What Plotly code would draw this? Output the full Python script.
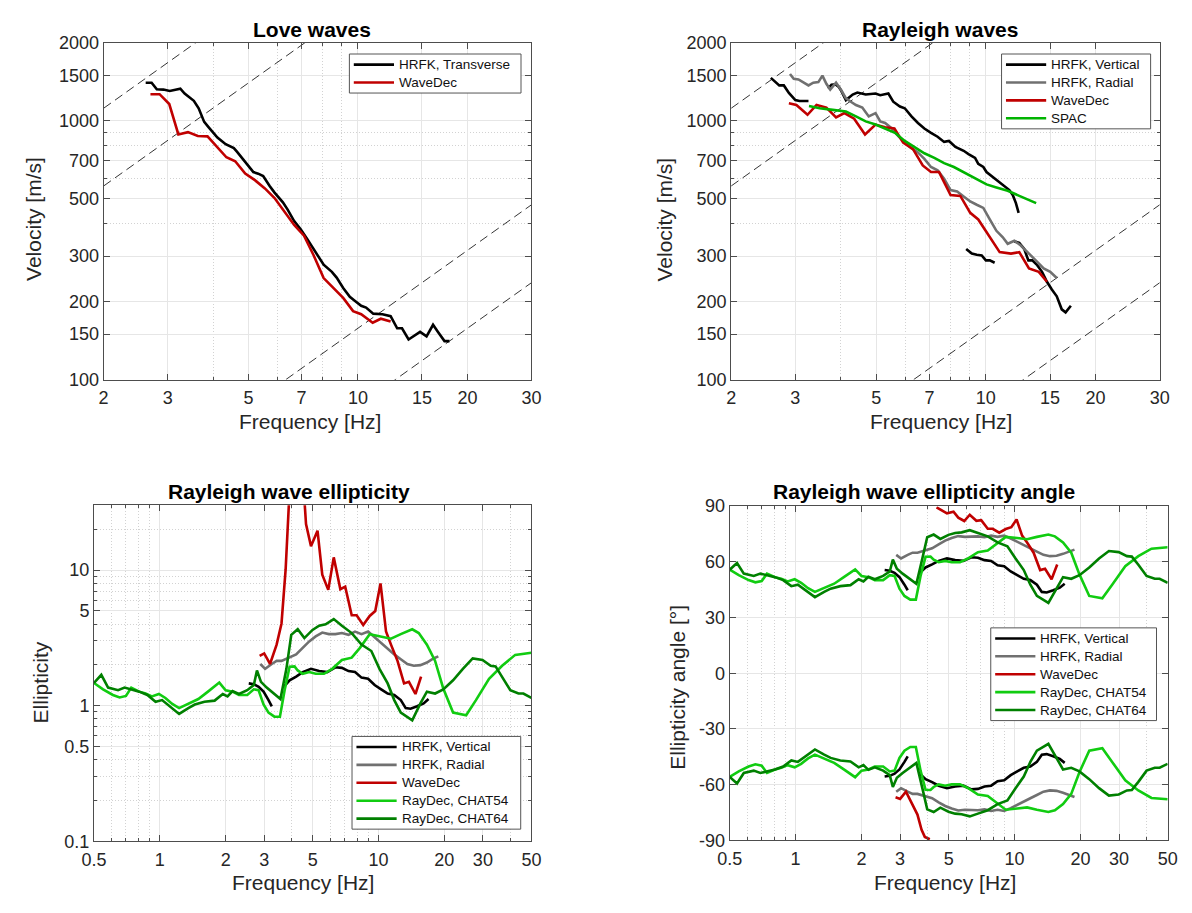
import numpy as np
import plotly.graph_objects as go

# ---------------------------------------------------------------------------
# Love-wave dispersion curves (frequency in Hz, phase velocity in m/s)
love_hrfk_f = [2.61, 2.71, 2.80, 2.92, 3.04, 3.25, 3.34, 3.45, 3.54, 3.65,
               3.78, 3.90, 4.11, 4.33, 4.56, 4.65, 4.80, 4.95, 5.16, 5.32,
               5.49, 5.72, 5.90, 6.22, 6.41, 6.68, 6.96, 7.26, 7.64, 8.05,
               8.48, 8.74, 9.11, 9.50, 9.80, 10.21, 10.53, 11.02, 11.68, 12.30,
               12.82, 13.22, 13.78, 14.82, 15.44, 16.09, 16.60, 17.30, 17.85]
love_hrfk_v = [1403, 1403, 1323, 1320, 1304, 1331, 1274, 1227, 1195, 1118,
               990, 939, 861, 812, 784, 760, 719, 688, 634, 625,
               612, 560, 528, 484, 454, 410, 381, 349, 311, 278,
               261, 248, 226, 209, 202, 193, 190, 180, 179, 176,
               158, 158, 143, 153, 147, 163, 153, 141, 141]

love_wd_f = [2.69, 2.85, 3.03, 3.21, 3.41, 3.63, 3.86, 4.11, 4.35, 4.60,
             4.90, 5.21, 5.55, 5.90, 6.28, 6.68, 7.11, 7.56, 8.05, 8.56,
             9.11, 9.70, 10.21, 10.98, 11.56, 12.30]
love_wd_v = [1267, 1267, 1161, 886, 904, 873, 871, 793, 723, 698,
             625, 590, 548, 503, 447, 396, 360, 302, 247, 227,
             207, 184, 179, 166, 172, 168]

# ---------------------------------------------------------------------------
# Rayleigh-wave dispersion curves
ray_hrfkz_f = [[2.57, 2.71, 2.79, 2.88, 3.00, 3.08, 3.26],
               [3.69, 3.77, 3.87, 3.95, 4.01, 4.13, 4.31, 4.44, 4.68, 4.98,
                5.13, 5.40, 5.57, 5.81, 5.99, 6.25, 6.51, 6.78, 7.07, 7.37,
                7.68, 7.92, 8.25, 8.69, 8.96, 9.34, 9.53, 9.84, 10.04, 10.46,
                10.79, 11.13, 11.60, 11.85, 12.09, 12.30],
               [8.83, 9.15, 9.44, 9.74, 10.00, 10.25, 10.57],
               [11.97, 12.35, 12.74, 13.08, 13.41, 13.83, 14.26, 14.71, 15.17,
                15.65, 16.15, 16.55, 17.11]]
ray_hrfkz_v = [[1465, 1370, 1370, 1282, 1202, 1192, 1192],
               [1331, 1378, 1382, 1351, 1304, 1202, 1263, 1286, 1263, 1274,
                1256, 1274, 1185, 1135, 1118, 1040, 981, 934, 899, 868,
                829, 836, 793, 766, 744, 719, 682, 663, 634, 607,
                586, 565, 540, 517, 481, 441],
               [320, 307, 304, 302, 289, 289, 283],
               [342, 338, 320, 289, 289, 277, 261, 239, 223, 210, 187, 182, 193]]

ray_hrfkr_f = [2.90, 2.97, 3.06, 3.16, 3.26, 3.36, 3.47, 3.56, 3.65, 3.74,
               3.88, 4.01, 4.13, 4.26, 4.40, 4.58, 4.77, 4.98, 5.13, 5.29,
               5.52, 5.75, 5.99, 6.25, 6.51, 6.78, 7.07, 7.37, 7.68, 8.00,
               8.34, 8.69, 9.06, 9.44, 9.84, 10.25, 10.69, 11.13, 11.48, 11.97,
               12.47, 13.13, 13.55, 13.97, 14.41, 15.02, 15.65]
ray_hrfkr_v = [1517, 1452, 1444, 1411, 1370, 1403, 1411, 1495, 1390, 1320,
               1403, 1312, 1220, 1185, 1151, 1125, 1040, 1071, 995, 981,
               934, 873, 824, 784, 755, 713, 663, 644, 598, 540,
               533, 510, 488, 474, 461, 416, 376, 355, 335, 344,
               330, 307, 294, 281, 269, 261, 247]

ray_wd_f = [2.88, 3.02, 3.24, 3.43, 3.65, 3.88, 4.09, 4.35, 4.66, 4.98,
            5.29, 5.61, 5.93, 6.31, 6.71, 7.07, 7.44, 8.00, 8.51, 9.06,
            9.53, 10.25, 10.91, 11.72, 12.35, 13.13, 13.97, 14.71]
ray_wd_v = [1168, 1151, 1055, 1151, 1125, 1031, 1071, 1019, 886, 967,
            945, 934, 824, 777, 672, 634, 634, 517, 513, 441,
            416, 355, 311, 307, 311, 269, 261, 239]

ray_spac_f = [3.27, 3.50, 3.80, 4.13, 4.40, 4.68, 4.98, 5.29, 5.63, 5.99,
              6.38, 6.78, 7.22, 7.68, 8.17, 8.69, 9.25, 10.04, 10.69, 11.48,
              12.35, 13.74]
ray_spac_v = [1141, 1118, 1102, 1086, 1040, 995, 967, 934, 899, 836,
              789, 749, 719, 686, 663, 634, 603, 568, 553, 537,
              513, 481]

# Array resolution limits, drawn as constant-wavelength lines v = lambda * f
limit_wavelengths = [559, 280, 15.8, 7.9]

# ---------------------------------------------------------------------------
# Rayleigh-wave ellipticity (H/V)
ell_hrfkz_f = [[2.55, 2.69, 2.83, 2.98, 3.14, 3.25],
               [3.66, 3.92, 4.20, 4.50, 4.91, 5.35, 5.83, 6.35, 6.80, 7.29,
                7.81, 8.36, 8.96, 9.60, 10.28, 11.01, 11.80, 12.64, 13.31, 14.01,
                15.01, 16.08, 16.93]]
ell_hrfkz_e = [[1.46, 1.44, 1.38, 1.27, 1.10, 0.99],
               [1.36, 1.54, 1.64, 1.77, 1.87, 1.80, 1.77, 1.92, 1.90, 1.80,
                1.77, 1.61, 1.58, 1.42, 1.32, 1.23, 1.20, 1.10, 0.96, 0.95,
                0.99, 1.04, 1.12]]

ell_hrfkr_f = [2.88, 3.03, 3.25, 3.42, 3.60, 3.92, 4.20, 4.50, 4.82, 5.16,
               5.53, 5.93, 6.35, 6.80, 7.29, 7.81, 8.36, 8.96, 9.60, 10.28,
               11.01, 11.80, 12.64, 13.54, 14.50, 15.54, 16.64, 17.83, 18.77]
ell_hrfkr_e = [2.03, 1.87, 2.03, 2.14, 2.14, 2.29, 2.39, 2.67, 2.98, 3.24,
               3.46, 3.37, 3.37, 3.43, 3.33, 3.52, 3.37, 3.52, 3.19, 2.90,
               2.60, 2.39, 2.20, 2.03, 1.97, 1.99, 2.08, 2.23, 2.31]

# WaveDec gives a signed ellipticity (retrograde < 0, prograde > 0)
ell_wd_f = [2.86, 3.00, 3.19, 3.42, 3.60, 3.76, 3.89, 4.10, 4.40, 4.58,
            4.66, 4.91, 5.26, 5.53, 5.89, 6.24, 6.69, 7.04, 7.54, 7.94,
            8.51, 9.11, 9.66, 10.21, 10.82, 11.40, 12.21, 13.08, 13.77, 14.75,
            15.65]
ell_wd_e = [-2.33, -2.43, -2.03, -2.82, -4.04, -10.1, -30.3, -90.0, 90.0, 30.3,
            21.8, 15.0, 19.5, 9.25, 7.14, 12.4, 7.22, 7.55, 4.64, 4.64,
            3.93, 4.59, 4.99, 7.97, 3.52, 2.82, 2.14, 1.46, 1.50, 1.22,
            1.64]

ell_chat54_f = [0.50, 0.55, 0.61, 0.655, 0.70, 0.74, 0.805, 0.86, 0.92, 0.99,
                1.06, 1.14, 1.225, 1.35, 1.50, 1.66, 1.87, 2.00, 2.15, 2.30,
                2.51, 2.69, 2.83, 2.98, 3.14, 3.34, 3.54, 3.72, 3.92, 4.13,
                4.27, 4.50, 4.82, 5.16, 5.63, 6.14, 6.80, 7.54, 8.22, 9.11,
                10.28, 11.40, 12.64, 14.26, 15.27, 16.64, 18.14, 19.77, 21.92, 25.15,
                27.89, 32.01, 36.73, 42.16, 50.0]
ell_chat54_e = [1.47, 1.32, 1.20, 1.15, 1.18, 1.36, 1.27, 1.23, 1.17, 1.22,
                1.14, 1.03, 0.96, 1.04, 1.12, 1.27, 1.48, 1.30, 1.27, 1.20,
                1.20, 1.32, 1.30, 1.02, 0.89, 0.83, 0.83, 1.30, 1.94, 1.95,
                1.82, 1.72, 1.77, 1.72, 1.72, 1.87, 2.17, 2.26, 2.67, 3.37,
                3.24, 3.12, 3.37, 3.66, 3.43, 2.82, 2.14, 1.34, 0.89, 0.85,
                1.10, 1.58, 1.97, 2.37, 2.46]

ell_chat64_f = [0.50, 0.54, 0.58, 0.644, 0.69, 0.74, 0.805, 0.877, 0.956, 1.024,
                1.116, 1.225, 1.35, 1.445, 1.60, 1.78, 1.94, 2.04, 2.15, 2.30,
                2.51, 2.69, 2.78, 2.90, 3.08, 3.34, 3.56, 3.79, 3.99, 4.27,
                4.58, 4.99, 5.35, 5.73, 6.24, 6.80, 7.54, 8.36, 9.27, 10.10,
                11.01, 11.80, 12.64, 14.26, 15.54, 16.64, 18.14, 19.77, 21.92, 24.30,
                26.95, 29.88, 32.57, 34.29, 36.73, 40.05, 43.64, 45.95, 50.0]
ell_chat64_e = [1.47, 1.69, 1.36, 1.30, 1.36, 1.32, 1.27, 1.20, 1.07, 1.10,
                0.98, 0.87, 0.96, 1.02, 1.07, 1.09, 1.22, 1.17, 1.28, 1.22,
                1.30, 1.42, 1.82, 1.50, 1.36, 1.23, 1.12, 1.87, 3.33, 3.66,
                3.15, 3.62, 3.89, 3.98, 4.35, 3.89, 3.43, 2.82, 2.53, 1.87,
                1.46, 1.10, 0.89, 0.78, 1.04, 1.27, 1.23, 1.32, 1.54, 1.87,
                2.23, 2.17, 1.97, 1.95, 1.63, 1.30, 1.23, 1.23, 1.14]

# Axis ticks
disp_xticks = [2, 3, 5, 7, 10, 15, 20, 30]
disp_yticks = [100, 150, 200, 300, 500, 700, 1000, 1500, 2000]
ell_xticks = [0.5, 1, 2, 3, 5, 10, 20, 30, 50]
ell_yticks = [0.1, 0.5, 1, 5, 10]
ang_yticks = [-90, -60, -30, 0, 30, 60, 90]

# ---------------------------------------------------------------------------
W, H = 1192, 913
FONT = "Liberation Sans, Arial, Helvetica, sans-serif"
C_BLACK = "#000000"
C_GRAY = "#707070"
C_RED = "#c00000"
C_LGREEN = "#11cc11"
C_DGREEN = "#008000"
C_SPAC = "#00b400"
LW = 2.6


def join(segments):
    out = []
    for i, s in enumerate(segments):
        if i:
            out.append(None)
        out.extend(s)
    return out


def both_branches(f_segs, a_segs):
    """Upper (+) and lower (-) ellipticity-angle branches in one trace."""
    fx = join(f_segs)
    up = join([list(a) for a in a_segs])
    dn = join([list(-np.asarray(a)) for a in a_segs])
    return fx + [None] + fx, up + [None] + dn


def angle(e):
    return np.degrees(np.arctan(np.asarray(e, dtype=float)))


fig = go.Figure()


def line_trace(x, y, color, xa, ya, width=LW, dash=None):
    fig.add_trace(go.Scatter(x=x, y=y, mode="lines", showlegend=False,
                             line=dict(color=color, width=width, dash=dash),
                             hoverinfo="skip", xaxis=xa, yaxis=ya))


# ---- Love waves -----------------------------------------------------------
f_lim = [disp_xticks[0], disp_xticks[-1]]
for xa, ya in (("x", "y"), ("x2", "y2")):
    for lam in limit_wavelengths:
        line_trace(f_lim, [lam * f for f in f_lim], "#000000", xa, ya,
                   width=0.8, dash="9px,5px")

love_series = [
    ("HRFK, Transverse", love_hrfk_f, love_hrfk_v, C_BLACK),
    ("WaveDec", love_wd_f, love_wd_v, C_RED),
]
for name, f, v, col in love_series:
    line_trace(f, v, col, "x", "y")

# ---- Rayleigh waves -------------------------------------------------------
ray_series = [
    ("HRFK, Vertical", join(ray_hrfkz_f), join(ray_hrfkz_v), C_BLACK),
    ("HRFK, Radial", ray_hrfkr_f, ray_hrfkr_v, C_GRAY),
    ("WaveDec", ray_wd_f, ray_wd_v, C_RED),
    ("SPAC", ray_spac_f, ray_spac_v, C_SPAC),
]
for name, f, v, col in ray_series:
    line_trace(f, v, col, "x2", "y2")

# ---- Ellipticity ----------------------------------------------------------
ell_series = [
    ("HRFK, Vertical", ell_hrfkz_f, ell_hrfkz_e, C_BLACK),
    ("HRFK, Radial", [ell_hrfkr_f], [ell_hrfkr_e], C_GRAY),
    ("WaveDec", [ell_wd_f], [list(np.abs(ell_wd_e))], C_RED),
    ("RayDec, CHAT54", [ell_chat54_f], [ell_chat54_e], C_LGREEN),
    ("RayDec, CHAT64", [ell_chat64_f], [ell_chat64_e], C_DGREEN),
]
for name, fs, es, col in ell_series:
    line_trace(join(fs), join(es), col, "x3", "y3")

# ---- Ellipticity angle ----------------------------------------------------
for name, fs, es, col in ell_series:
    if name == "WaveDec":
        # signed: split the curve where the sense of particle motion flips
        a = angle(ell_wd_e)
        xs, ys = [], []
        for i, (f, v) in enumerate(zip(ell_wd_f, a)):
            if i and np.sign(v) != np.sign(a[i - 1]):
                xs.append(None)
                ys.append(None)
            xs.append(f)
            ys.append(float(v))
    else:
        xs, ys = both_branches(fs, [angle(e) for e in es])
    line_trace(xs, ys, col, "x4", "y4")

# ---------------------------------------------------------------------------
AX_COL = "#4d4d4d"
GRID = "#e6e6e6"
MGRID = "#d2d2d2"
TICKFONT = dict(family=FONT, size=18, color="#262626")


def axis_style(**kw):
    base = dict(showline=True, linecolor=AX_COL, linewidth=1, mirror="allticks",
                ticks="inside", ticklen=6, tickcolor=AX_COL, tickwidth=1,
                showgrid=True, gridcolor=GRID, gridwidth=1, zeroline=False,
                tickfont=TICKFONT, fixedrange=True)
    base.update(kw)
    return base


def minor(vals):
    return dict(tickvals=vals, ticks="inside", ticklen=3, tickcolor=AX_COL,
                showgrid=True, gridcolor=MGRID, griddash="1px,2px", gridwidth=1)


def px(x0, x1):
    return [x0 / W, x1 / W]


def py(top, bottom):
    return [1 - bottom / H, 1 - top / H]


disp_minor_x = [4, 6, 8, 9]
disp_minor_y = [400, 600, 800, 900]
ell_minor_x = [0.6, 0.7, 0.8, 0.9, 4, 6, 7, 8, 9, 40]
ell_minor_y = [0.2, 0.3, 0.4, 0.6, 0.7, 0.8, 0.9, 2, 3, 4, 6, 7, 8, 9, 20, 30]

XSTAND = 2
YSTAND = 0
lay = dict(
    width=W, height=H, margin=dict(l=0, r=0, t=0, b=0), showlegend=False,
    paper_bgcolor="white", plot_bgcolor="white",
    font=dict(family=FONT, color="#262626"),
    xaxis=axis_style(domain=px(92.4, 528.7), type="log",
                     range=[np.log10(2), np.log10(30)], anchor="y",
                     tickvals=disp_xticks, ticktext=[str(v) for v in disp_xticks],
                     minor=minor(disp_minor_x), ticklabelstandoff=XSTAND),
    yaxis=axis_style(domain=py(33.6, 378), type="log",
                     range=[2, np.log10(2000)], anchor="x",
                     tickvals=disp_yticks, ticktext=[str(v) for v in disp_yticks],
                     minor=minor(disp_minor_y), ticklabelstandoff=YSTAND),
    xaxis2=axis_style(domain=px(732.3, 1169.3), type="log",
                      range=[np.log10(2), np.log10(30)], anchor="y2",
                      tickvals=disp_xticks, ticktext=[str(v) for v in disp_xticks],
                      minor=minor(disp_minor_x), ticklabelstandoff=XSTAND),
    yaxis2=axis_style(domain=py(33.6, 378), type="log",
                      range=[2, np.log10(2000)], anchor="x2",
                      tickvals=disp_yticks, ticktext=[str(v) for v in disp_yticks],
                      minor=minor(disp_minor_y), ticklabelstandoff=YSTAND),
    xaxis3=axis_style(domain=px(82.6, 528.6), type="log",
                      range=[np.log10(0.5), np.log10(50)], anchor="y3",
                      tickvals=ell_xticks, ticktext=[str(v) for v in ell_xticks],
                      minor=minor(ell_minor_x), ticklabelstandoff=XSTAND),
    yaxis3=axis_style(domain=py(506.4, 850), type="log",
                      range=[-1, np.log10(30)], anchor="x3",
                      tickvals=ell_yticks, ticktext=[str(v) for v in ell_yticks],
                      minor=minor(ell_minor_y), ticklabelstandoff=YSTAND),
    xaxis4=axis_style(domain=px(730.8, 1177.4), type="log",
                      range=[np.log10(0.5), np.log10(50)], anchor="y4",
                      tickvals=ell_xticks, ticktext=[str(v) for v in ell_xticks],
                      minor=minor(ell_minor_x), ticklabelstandoff=XSTAND),
    yaxis4=axis_style(domain=py(507.3, 849), range=[-90, 90], anchor="x4",
                      tickvals=ang_yticks, ticktext=[str(v) for v in ang_yticks],
                      ticklabelstandoff=YSTAND),
)

shapes = []
annotations = []


def ann(text, x, y, size, angle=0, color="#262626", xanchor="center"):
    annotations.append(dict(
        text=text, x=x / W, y=1 - y / H, xref="paper", yref="paper",
        showarrow=False, xanchor=xanchor, yanchor="middle", textangle=angle,
        font=dict(family=FONT, size=size, color=color)))


# Boxed legends drawn in figure pixels (left, top, right)
LEG_PITCH = 18.3
LEG_PAD = 10.8


def legend_box(left, top, right, entries):
    bottom = top + 2 * LEG_PAD + (len(entries) - 1) * LEG_PITCH
    shapes.append(dict(type="rect", xref="paper", yref="paper", layer="above",
                       x0=left / W, x1=right / W, y0=1 - bottom / H, y1=1 - top / H,
                       fillcolor="white", line=dict(color="#555555", width=1)))
    for k, (name, col) in enumerate(entries):
        yc = top + LEG_PAD + k * LEG_PITCH
        shapes.append(dict(type="line", xref="paper", yref="paper", layer="above",
                           x0=(left + 4.5) / W, x1=(left + 45.5) / W,
                           y0=1 - yc / H, y1=1 - yc / H,
                           line=dict(color=col, width=LW)))
        ann(name, left + 48.5, yc, 13.5, color="#111111", xanchor="left")


legend_box(343, 45, 518, [(n, c) for n, _, _, c in love_series])
legend_box(1008, 45, 1160, [(n, c) for n, _, _, c in ray_series])
legend_box(345.7, 742.7, 517.7, [(n, c) for n, _, _, c in ell_series])
legend_box(997, 631.7, 1166, [(n, c) for n, _, _, c in ell_series])

TITLE_SZ = 21
LABEL_SZ = 21
ann("<b>Love waves</b>", 305, 19.7, TITLE_SZ, color="#000000")
ann("<b>Rayleigh waves</b>", 945, 19.7, TITLE_SZ, color="#000000")
ann("<b>Rayleigh wave ellipticity</b>", 281, 492.5, TITLE_SZ, color="#000000")
ann("<b>Rayleigh wave ellipticity angle</b>", 929, 492.5, TITLE_SZ, color="#000000")
ann("Frequency [Hz]", 303, 420.5, LABEL_SZ)
ann("Frequency [Hz]", 946, 420.5, LABEL_SZ)
ann("Frequency [Hz]", 296, 892.5, LABEL_SZ)
ann("Frequency [Hz]", 950, 892.5, LABEL_SZ)
ann("Velocity [m/s]", 21, 214, LABEL_SZ, -90)
ann("Velocity [m/s]", 664, 214, LABEL_SZ, -90)
ann("Ellipticity", 29, 687, LABEL_SZ, -90)
ann("Ellipticity angle [°]", 678, 692, LABEL_SZ, -90)

lay["shapes"] = shapes
lay["annotations"] = annotations

fig.update_layout(**lay)
fig.write_html("out.html")
